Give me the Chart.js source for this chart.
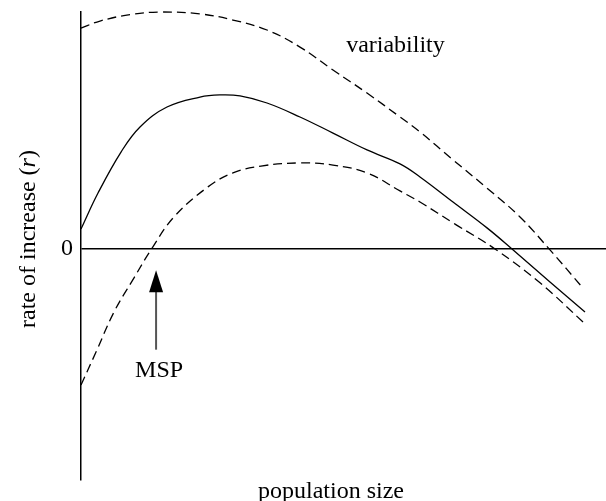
<!DOCTYPE html>
<html>
<head>
<meta charset="utf-8">
<script src="https://cdn.jsdelivr.net/npm/chart.js@4.4.1/dist/chart.umd.min.js"></script>
<style>
  body { margin: 0; background: #fff; }
  #wrap { width: 606px; height: 501px; }
</style>
</head>
<body>
<div id="wrap"><canvas id="chart1" width="606" height="501"></canvas></div>
<script>
// population size (arbitrary units) and rate of increase r for each curve
const meanX = [0, 3.24, 7.62, 11.24, 16.38, 22.67, 26.48, 30.29, 35.43, 41.71, 48.0, 54.48, 60.76, 64.57, 70.86, 77.33, 82.10, 89.33, 96.0];
const meanR = [0.84, 2.36, 4.09, 5.15, 5.99, 6.41, 6.50, 6.46, 6.16, 5.57, 4.89, 4.18, 3.59, 3.04, 1.98, 0.89, 0, -1.39, -2.66];

const upperX = [0, 3.62, 9.33, 15.05, 22.67, 28.95, 35.43, 41.71, 48.0, 54.48, 60.76, 64.57, 70.86, 77.33, 83.62, 89.33, 95.62];
const upperR = [9.32, 9.62, 9.89, 10.0, 9.92, 9.66, 9.24, 8.52, 7.55, 6.58, 5.57, 4.94, 3.76, 2.57, 1.35, -0.04, -1.65];

const lowerX = [0, 2.86, 6.29, 10.10, 13.33, 17.71, 24.19, 28.95, 34.29, 41.71, 48.0, 54.48, 60.76, 64.57, 71.24, 78.86, 87.43, 95.62];
const lowerR = [-5.74, -4.35, -2.66, -1.22, -0.04, 1.35, 2.62, 3.21, 3.50, 3.63, 3.54, 3.21, 2.45, 1.98, 1.05, 0, -1.43, -3.08];

const yTicks = [0];

// annotation anchors (data units)
const mspX = 14.3;
const arrowTipR = -0.9;
const arrowTailR = -4.25;
const mspLabelR = -5.4;
const variabilityX = 50.5;
const variabilityR = 8.3;

const FONT = "'Liberation Serif', 'Times New Roman', serif";
const SIZE = 24;

function pts(xs, ys) {
    return xs.map((x, i) => ({x: x, y: ys[i]}));
}

function curve(label, xs, ys, dashed) {
    return {
        label: label,
        data: pts(xs, ys),
        borderColor: '#000',
        borderWidth: 1.3,
        borderDash: dashed ? [9, 5] : [],
        pointRadius: 0,
        fill: false,
        tension: 0.4,
        clip: false
    };
}

// text and arrow that sit on top of the plot
const notes = {
    id: 'notes',
    afterDraw(chart) {
        const ctx = chart.ctx;
        const x = chart.scales.x, y = chart.scales.y;
        ctx.save();
        ctx.fillStyle = '#000';
        ctx.font = SIZE + 'px ' + FONT;

        ctx.textAlign = 'left';
        ctx.textBaseline = 'alphabetic';
        ctx.fillText('variability', x.getPixelForValue(variabilityX), y.getPixelForValue(variabilityR));

        // x axis title
        ctx.textAlign = 'center';
        ctx.fillText('population size', 331, 498);

        // MSP arrow
        const ax = x.getPixelForValue(mspX);
        const tip = y.getPixelForValue(arrowTipR);
        const tail = y.getPixelForValue(arrowTailR);
        ctx.strokeStyle = '#555';
        ctx.lineWidth = 2;
        ctx.beginPath();
        ctx.moveTo(ax, tail);
        ctx.lineTo(ax, tip + 18);
        ctx.stroke();
        ctx.beginPath();
        ctx.moveTo(ax, tip);
        ctx.lineTo(ax - 7, tip + 22);
        ctx.lineTo(ax + 7, tip + 22);
        ctx.closePath();
        ctx.fill();

        ctx.fillText('MSP', ax + 3, y.getPixelForValue(mspLabelR));

        // y axis title with italic r
        const parts = [['rate of increase (', ''], ['r', 'italic '], [')', '']];
        let total = 0;
        parts.forEach(p => { ctx.font = p[1] + SIZE + 'px ' + FONT; p.push(ctx.measureText(p[0]).width); total += p[2]; });
        ctx.translate(29, 239);
        ctx.rotate(-Math.PI / 2);
        ctx.textAlign = 'left';
        ctx.textBaseline = 'middle';
        let pos = -total / 2;
        parts.forEach(p => {
            ctx.font = p[1] + SIZE + 'px ' + FONT;
            ctx.fillText(p[0], pos, 0);
            pos += p[2];
        });
        ctx.restore();
    }
};

new Chart(document.getElementById('chart1'), {
    type: 'line',
    data: {
        datasets: [
            curve('upper', upperX, upperR, true),
            curve('mean', meanX, meanR, false),
            curve('lower', lowerX, lowerR, true)
        ]
    },
    options: {
        responsive: false,
        animation: false,
        devicePixelRatio: 1,
        layout: { padding: { top: 12, left: 0, right: 0, bottom: 0 } },
        plugins: { legend: { display: false }, tooltip: { enabled: false } },
        scales: {
            x: {
                type: 'linear',
                min: 0,
                max: 100,
                grid: { display: false },
                border: { display: false },
                ticks: { display: false },
                afterFit(scale) {
                    scale.height = 21;
                    scale.paddingLeft = 0;
                    scale.paddingRight = 0;
                }
            },
            y: {
                type: 'linear',
                min: -9.75,
                max: 10,
                afterBuildTicks(scale) { scale.ticks = yTicks.map(v => ({value: v})); },
                ticks: {
                    color: '#000',
                    padding: 8,
                    font: { family: FONT, size: SIZE }
                },
                grid: { color: '#000', lineWidth: 1.5, drawTicks: false },
                border: { display: true, color: '#000', width: 1.5 },
                afterFit(scale) {
                    scale.width = 81;
                    scale.paddingTop = 0;
                    scale.paddingBottom = 0;
                }
            }
        }
    },
    plugins: [notes]
});
</script>
</body>
</html>
